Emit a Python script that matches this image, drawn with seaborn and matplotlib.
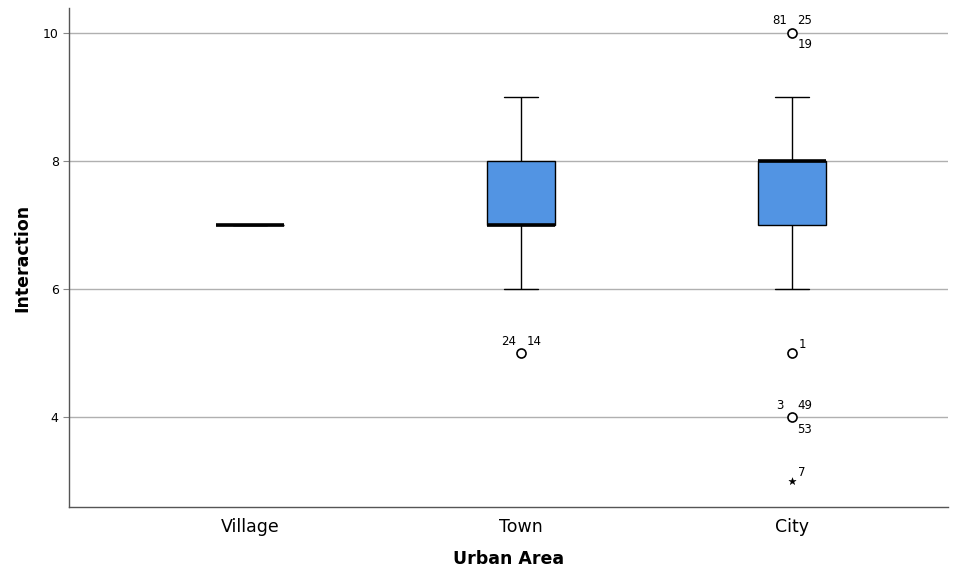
import numpy as np
import pandas as pd
import seaborn as sns
import matplotlib.pyplot as plt

# categorie e dati grezzi (valore -> numero di casi)
areas = ["Village", "Town", "City"]

village_vals = [7]
village_counts = [3]

town_vals = [5, 6, 7, 8, 9]
town_counts = [2, 3, 10, 6, 2]

city_vals = [3, 4, 5, 6, 7, 8, 9, 10]
city_counts = [1, 3, 1, 4, 15, 30, 10, 3]

# outlier con numero di caso (stile SPSS)
out_area = ["Town", "City", "City", "City", "City"]
out_value = [5, 10, 5, 4, 3]
out_cases = [["24", "14"], ["81", "25", "19"], ["1"], ["3", "49", "53"], ["7"]]
out_kind = ["circle", "circle", "circle", "circle", "extreme"]

box_color = "#5294e3"

rows = []
for a, vals, cnts in zip(areas,
                         [village_vals, town_vals, city_vals],
                         [village_counts, town_counts, city_counts]):
    for v in np.repeat(vals, cnts):
        rows.append({"Urban Area": a, "Interaction": v})
df = pd.DataFrame(rows)

outliers = pd.DataFrame({"Urban Area": out_area, "Interaction": out_value,
                         "kind": out_kind})

sns.set_style("white")
plt.rcParams['font.family'] = ['DejaVu Sans']
plt.rcParams['text.color'] = 'black'
plt.rcParams['axes.labelcolor'] = 'black'
plt.rcParams['xtick.color'] = 'black'
plt.rcParams['ytick.color'] = 'black'

fig = plt.figure(figsize=(9.6, 5.71), dpi=100)
ax = fig.add_axes([0.072, 0.112, 0.9155, 0.874])

sns.boxplot(data=df, x="Urban Area", y="Interaction", order=areas,
            whis=1.5, width=0.25, showfliers=False, color=box_color,
            saturation=1, linewidth=1, linecolor="black",
            medianprops={"linewidth": 2.6, "color": "black"},
            ax=ax)

circ = outliers[outliers["kind"] == "circle"]
ext = outliers[outliers["kind"] == "extreme"]
sns.stripplot(data=circ, x="Urban Area", y="Interaction", order=areas,
              jitter=False, color="white", edgecolor="black", linewidth=1.2,
              marker="o", size=6.5, ax=ax, zorder=5)
sns.stripplot(data=ext, x="Urban Area", y="Interaction", order=areas,
              jitter=False, color="black", edgecolor="black", linewidth=0.3,
              marker="*", size=5.5, ax=ax, zorder=5)

# etichette dei casi: singolo -> alto a destra; multipli -> sx-alto, dx-alto, dx-basso
offsets_multi = [(-12, 12), (13, 12), (13, -12)]
for a, v, cases in zip(out_area, out_value, out_cases):
    xi = areas.index(a)
    offs = [(10, 9)] if len(cases) == 1 else offsets_multi
    for c, (dx, dy) in zip(cases, offs):
        ax.annotate(c, (xi, v), xytext=(dx, dy), textcoords="offset pixels",
                    ha="center", va="center", fontsize=8.5)

ax.set_xlim(-0.668, 2.576)
ax.set_ylim(2.594, 10.39)
ax.set_yticks([4, 6, 8, 10])
ax.yaxis.grid(True, color="#b0b0b0", linewidth=1)
ax.set_axisbelow(True)
for s in ["top", "right"]:
    ax.spines[s].set_visible(False)
for s in ["left", "bottom"]:
    ax.spines[s].set_color("#555555")
    ax.spines[s].set_linewidth(1)

ax.tick_params(axis="y", labelsize=9, length=4, color="#888888", left=True)
ax.tick_params(axis="x", labelsize=12.5, length=0, pad=8)
ax.set_xlabel("Urban Area", fontsize=12.5, fontweight="bold", labelpad=10)
ax.set_ylabel("Interaction", fontsize=12.5, fontweight="bold", labelpad=8)

fig.savefig("out.png", dpi=100)
